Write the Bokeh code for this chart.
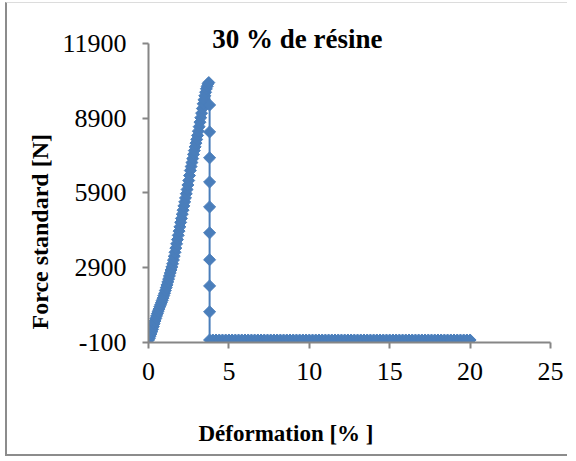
from bokeh.plotting import figure
from bokeh.models import Range1d, FixedTicker, Label, ColumnDataSource, Title, LinearAxis
from bokeh.embed import file_html
from bokeh.resources import INLINE
import numpy as np

# ---- data ----
rise_deformation = [0.00, 0.05, 0.10, 0.15, 0.20, 0.25, 0.30, 0.35, 0.40, 0.45,
                    0.50, 0.55, 0.60, 0.65, 0.70, 0.75, 0.80, 0.85, 0.90, 0.95,
                    1.00, 1.05, 1.10, 1.15, 1.20, 1.25, 1.30, 1.35, 1.40, 1.45,
                    1.50, 1.55, 1.60, 1.65, 1.70, 1.75, 1.80, 1.85, 1.90, 1.95,
                    2.00, 2.05, 2.10, 2.15, 2.20, 2.25, 2.30, 2.35, 2.40, 2.45,
                    2.50, 2.55, 2.60, 2.65, 2.70, 2.75, 2.80, 2.85, 2.90, 2.95,
                    3.00, 3.05, 3.10, 3.15, 3.20, 3.25, 3.30, 3.35, 3.40, 3.45,
                    3.50, 3.55, 3.60, 3.65, 3.70, 3.75]
rise_force = [0, 70, 150, 240, 330, 430, 540, 650, 760, 860,
              960, 1060, 1150, 1240, 1330, 1410, 1500, 1590, 1680, 1780,
              1880, 1990, 2100, 2210, 2330, 2450, 2570, 2690, 2810, 2930,
              3060, 3210, 3360, 3520, 3690, 3860, 4030, 4200, 4370, 4540,
              4720, 4880, 5050, 5210, 5380, 5540, 5700, 5870, 6040, 6220,
              6400, 6600, 6800, 6960, 7120, 7280, 7450, 7600, 7750, 7900,
              8050, 8210, 8380, 8560, 8740, 8920, 9100, 9290, 9480, 9640,
              9800, 9940, 10080, 10180, 10280, 10330]

drop_deformation = [3.8, 3.8, 3.8, 3.8, 3.8, 3.8, 3.8, 3.8, 3.8, 3.8]
drop_force = [9430, 8350, 7310, 6340, 5340, 4300, 3220, 2170, 1130, 0]

flat_deformation = [4.0, 4.2, 4.4, 4.6, 4.8, 5.0, 5.2, 5.4, 5.6, 5.8,
                    6.0, 6.2, 6.4, 6.6, 6.8, 7.0, 7.2, 7.4, 7.6, 7.8,
                    8.0, 8.2, 8.4, 8.6, 8.8, 9.0, 9.2, 9.4, 9.6, 9.8,
                    10.0, 10.2, 10.4, 10.6, 10.8, 11.0, 11.2, 11.4, 11.6, 11.8,
                    12.0, 12.2, 12.4, 12.6, 12.8, 13.0, 13.2, 13.4, 13.6, 13.8,
                    14.0, 14.2, 14.4, 14.6, 14.8, 15.0, 15.2, 15.4, 15.6, 15.8,
                    16.0, 16.2, 16.4, 16.6, 16.8, 17.0, 17.2, 17.4, 17.6, 17.8,
                    18.0, 18.2, 18.4, 18.6, 18.8, 19.0, 19.2, 19.4, 19.6, 19.8,
                    20.0]
flat_force = [0, 0, 0, 0, 0, 0, 0, 0, 0, 0,
              0, 0, 0, 0, 0, 0, 0, 0, 0, 0,
              0, 0, 0, 0, 0, 0, 0, 0, 0, 0,
              0, 0, 0, 0, 0, 0, 0, 0, 0, 0,
              0, 0, 0, 0, 0, 0, 0, 0, 0, 0,
              0, 0, 0, 0, 0, 0, 0, 0, 0, 0,
              0, 0, 0, 0, 0, 0, 0, 0, 0, 0,
              0, 0, 0, 0, 0, 0, 0, 0, 0, 0,
              0]

x_ticks = [0, 5, 10, 15, 20, 25]
y_ticks = [-100, 2900, 5900, 8900, 11900]
y_tick_labels = ["-100", "2900", "5900", "8900", "11900"]

title_text = "30 % de résine"
x_label = "Déformation  [% ]"
y_label = "Force  standard  [N]"

deformation = rise_deformation + drop_deformation + flat_deformation
force = rise_force + drop_force + flat_force
src = ColumnDataSource(dict(x=deformation, y=force))

# ---- figure ----
BLUE = "#4a7ebb"
AXIS = "#868686"
FONT = "Liberation Serif"

p = figure(width=562, height=454, output_backend="svg", toolbar_location=None,
           x_range=Range1d(0, 25), y_range=Range1d(-100, 12700),
           min_border_left=141, min_border_right=19,
           min_border_top=20, min_border_bottom=114)
p.outline_line_color = None
p.grid.visible = False
p.background_fill_color = "white"
p.border_fill_color = "white"
p.styles = {"border-left": "2px solid #8c8c8c",
            "border-bottom": "2px solid #8c8c8c",
            "border-top": "1px solid #dcdcdc",
            "margin-left": "5px", "margin-top": "2px"}

p.line("x", "y", source=src, line_color=BLUE, line_width=2)
p.scatter("x", "y", source=src, marker="square", size=8.5, angle=np.pi / 4,
          fill_color=BLUE, line_color=BLUE)

for ax in (p.xaxis[0], p.yaxis[0]):
    ax.axis_line_color = AXIS
    ax.axis_line_width = 2
    ax.major_tick_line_color = AXIS
    ax.major_tick_line_width = 2
    ax.major_tick_in = 0
    ax.major_tick_out = 6
    ax.minor_tick_line_color = None
    ax.major_label_text_font = FONT
    ax.major_label_text_font_size = "26px"
    ax.major_label_text_color = "black"

p.xaxis[0].ticker = FixedTicker(ticks=x_ticks)
p.yaxis[0].ticker = FixedTicker(ticks=y_ticks)
p.yaxis[0].bounds = (-100, 11900)
p.yaxis[0].major_label_overrides = {t: l for t, l in zip(y_ticks, y_tick_labels)}
p.xaxis[0].major_label_standoff = 14
p.yaxis[0].major_label_standoff = 16

# invisible spacer axis (one white tick, empty label) to push the x-axis title down
spacer = LinearAxis(ticker=FixedTicker(ticks=[12.5]), axis_line_color=None,
                    major_tick_line_color="white", minor_tick_line_color=None,
                    major_tick_in=0, major_tick_out=24, major_label_standoff=0,
                    major_label_overrides={12.5: ""},
                    major_label_text_font_size="1px")
p.add_layout(spacer, "below")

x_title = Title(text=x_label, align="left", offset=50, standoff=24,
                text_font=FONT, text_font_style="bold", text_font_size="23px",
                text_color="black")
y_title = Title(text=y_label, align="left", offset=13, standoff=13,
                text_font=FONT, text_font_style="bold", text_font_size="24px",
                text_color="black")
p.add_layout(x_title, "below")
p.add_layout(y_title, "left")

p.add_layout(Label(x=3.96, y=12090, text=title_text, text_font=FONT,
                   text_font_style="bold", text_font_size="27px",
                   text_color="black", text_baseline="middle"))

open("out.html", "w").write(file_html(p, INLINE))
